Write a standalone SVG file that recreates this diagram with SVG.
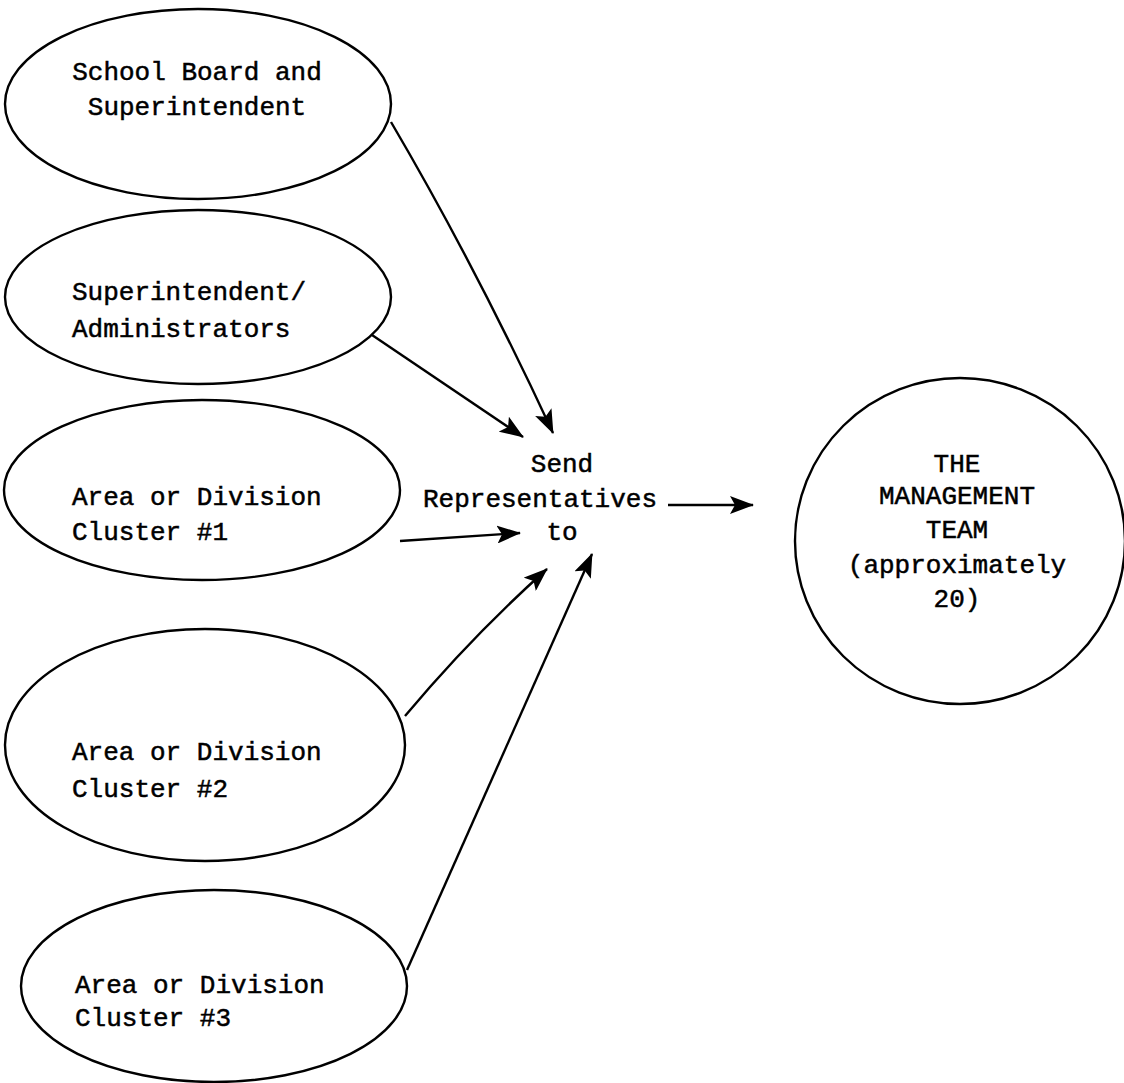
<svg xmlns="http://www.w3.org/2000/svg" width="1124" height="1083" viewBox="0 0 1124 1083">
<style>
.n{fill:none;stroke:#000;stroke-width:2.4}
.t{font-family:"Liberation Mono","Courier New",monospace;font-size:26px;fill:#000;stroke:#000;stroke-width:0.5}
.c{fill:none;stroke:#000;stroke-width:2.4}
</style>
<defs>
<marker id="ah" viewBox="0 0 24 18" refX="23" refY="9" markerWidth="24" markerHeight="18" markerUnits="userSpaceOnUse" orient="auto">
<path d="M0,0 L24,9 L0,18 L5,9 Z" fill="#000"/>
</marker>
</defs>
<rect width="1124" height="1083" fill="#fff"/>
<g id="n1">
<ellipse class="n" cx="198" cy="104" rx="193" ry="95"/>
<text class="t" x="197" y="80" text-anchor="middle">School Board and</text>
<text class="t" x="197" y="115" text-anchor="middle">Superintendent</text>
</g>
<g id="n2">
<ellipse class="n" cx="198" cy="297" rx="193" ry="87"/>
<text class="t" x="72" y="300">Superintendent/</text>
<text class="t" x="72" y="337">Administrators</text>
</g>
<g id="n3">
<ellipse class="n" cx="202" cy="490" rx="198" ry="90"/>
<text class="t" x="72" y="505">Area or Division</text>
<text class="t" x="72" y="540">Cluster #1</text>
</g>
<g id="n4">
<ellipse class="n" cx="205" cy="745" rx="200" ry="116"/>
<text class="t" x="72" y="760">Area or Division</text>
<text class="t" x="72" y="797">Cluster #2</text>
</g>
<g id="n5">
<ellipse class="n" cx="214" cy="986" rx="193" ry="96"/>
<text class="t" x="75" y="993">Area or Division</text>
<text class="t" x="75" y="1026">Cluster #3</text>
</g>
<g id="center">
<text class="t" x="562" y="472" text-anchor="middle">Send</text>
<text class="t" x="540" y="507" text-anchor="middle">Representatives</text>
<text class="t" x="562" y="540" text-anchor="middle">to</text>
</g>
<g id="team">
<ellipse class="n" cx="960" cy="541" rx="165" ry="163"/>
<text class="t" x="957" y="472" text-anchor="middle">THE</text>
<text class="t" x="957" y="504" text-anchor="middle">MANAGEMENT</text>
<text class="t" x="957" y="538" text-anchor="middle">TEAM</text>
<text class="t" x="957" y="573" text-anchor="middle">(approximately</text>
<text class="t" x="957" y="607" text-anchor="middle">20)</text>
</g>
<g id="connectors">
<path class="c" d="M391,122 Q475,265 553,433" marker-end="url(#ah)"/>
<path class="c" d="M372,335 Q450,388 523,437" marker-end="url(#ah)"/>
<path class="c" d="M400,541 L520,533" marker-end="url(#ah)"/>
<path class="c" d="M405,716 Q472,636 547,569" marker-end="url(#ah)"/>
<path class="c" d="M407,970 Q500,760 592,554" marker-end="url(#ah)"/>
<path class="c" d="M668,505 L753,505" marker-end="url(#ah)"/>
</g>
</svg>
